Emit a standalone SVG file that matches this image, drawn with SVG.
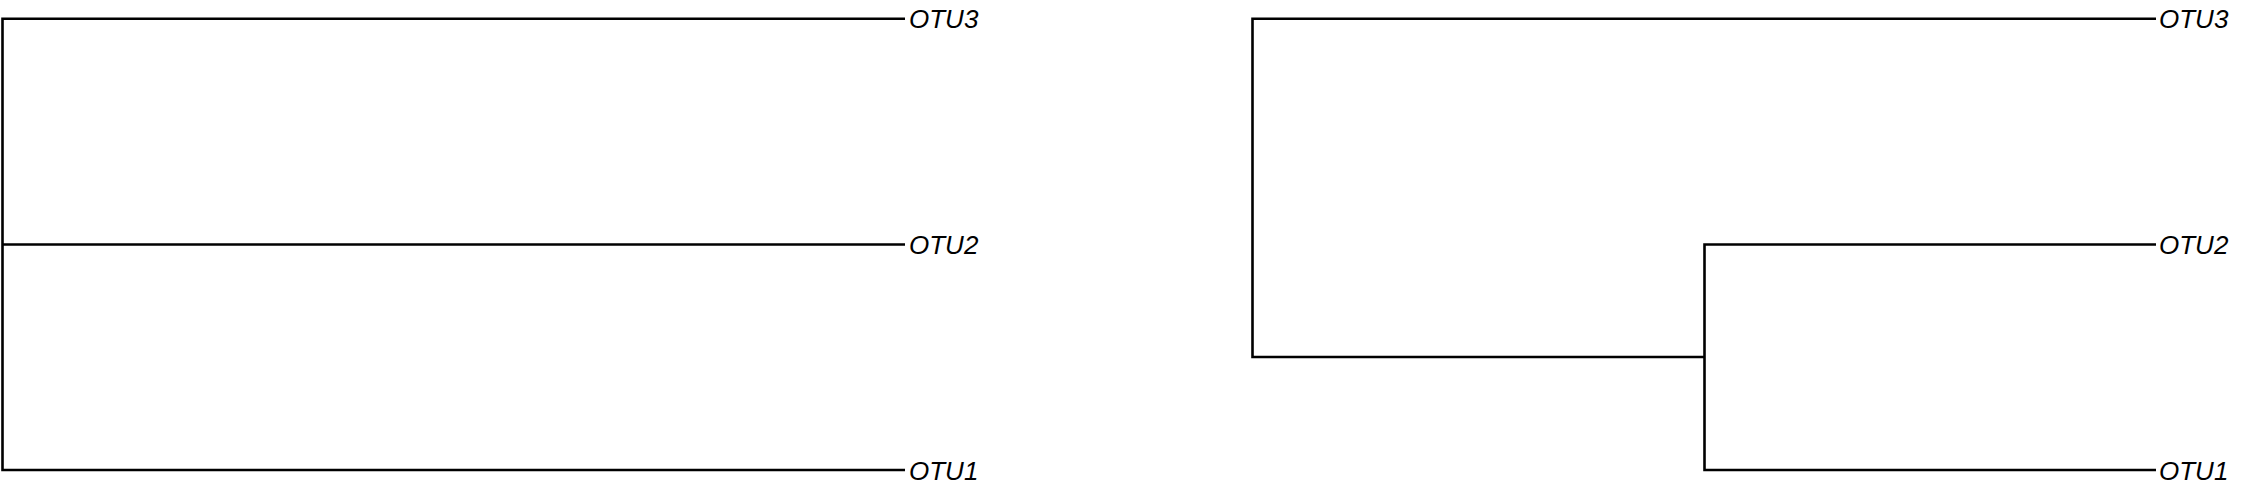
<svg xmlns="http://www.w3.org/2000/svg" width="2258" height="503" viewBox="0 0 2258 503">
<style>
.e{stroke:#000;stroke-width:2.6;fill:none;stroke-linecap:butt;stroke-linejoin:miter}
.t{font-family:"Liberation Sans",Arial,sans-serif;font-style:italic;font-size:26px;fill:#000}
</style>
<rect width="2258" height="503" fill="#fff"/>
<g id="connectors">
<path class="e" d="M905 18.7H2.5V470H905M2.5 244.5H905"/>
<path class="e" d="M2156 18.7H1252.5V357H1704.5M2156 244.5H1704.5V470H2156"/>
</g>
<g id="left-OTU3"><text class="t" x="909" y="28">OTU3</text></g>
<g id="left-OTU2"><text class="t" x="909" y="254">OTU2</text></g>
<g id="left-OTU1"><text class="t" x="909" y="479.5">OTU1</text></g>
<g id="right-OTU3"><text class="t" x="2159" y="28">OTU3</text></g>
<g id="right-OTU2"><text class="t" x="2159" y="254">OTU2</text></g>
<g id="right-OTU1"><text class="t" x="2159" y="479.5">OTU1</text></g>
</svg>
